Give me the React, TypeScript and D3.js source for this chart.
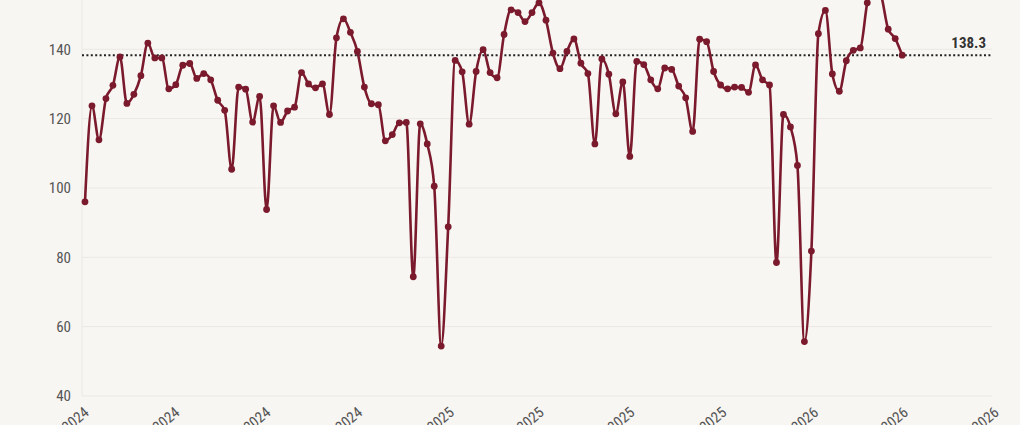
import React from "react";
import * as d3 from "d3";

const startDate = "2024-01-04";
const values: number[] = [
  96.0, 123.7, 113.9, 125.8, 129.6, 137.8, 124.4, 127.0, 132.4, 141.8,
  137.5, 137.5, 128.6, 129.8, 135.4, 135.9, 131.6, 133.0, 131.2, 125.3,
  122.4, 105.4, 129.1, 128.5, 119.0, 126.4, 93.8, 123.7, 118.9, 122.2,
  123.3, 133.3, 130.0, 128.9, 130.0, 121.2, 143.3, 148.8, 144.9, 139.4,
  129.1, 124.3, 124.0, 113.6, 115.4, 118.8, 118.9, 74.4, 118.5, 112.7,
  100.5, 54.4, 88.8, 136.8, 133.5, 118.4, 133.6, 139.9, 133.3, 131.8,
  144.3, 151.4, 150.6, 148.0, 150.6, 153.4, 148.4, 138.9, 134.4, 139.4,
  143.0, 136.0, 133.0, 112.7, 137.2, 132.8, 121.4, 130.6, 109.1, 136.5,
  135.6, 131.2, 128.6, 134.6, 134.2, 129.4, 126.0, 116.3, 142.9, 142.2,
  133.6, 129.7, 128.6, 129.1, 129.0, 127.6, 135.5, 131.2, 129.7, 78.5,
  121.2, 117.6, 106.5, 55.7, 81.8, 144.5, 151.2, 132.9, 127.9, 136.7,
  139.7, 140.4, 153.4, 159.5, 155.5, 145.8, 143.1, 138.3,
];
const yTicks = [40, 60, 80, 100, 120, 140];
const refValue = 138.3;
const refLabel = "138.3";
const xDomain = ["2024-01-01", "2026-07-01"];

const W = 1020;
const H = 425;
const BG = "#f8f6f3";
const LINE = "#7a1a2c";
const GRID = "#ebe8e4";
const TEXT = "#555";
const FONT = "'Roboto Condensed', 'Liberation Sans Narrow', 'DejaVu Sans Condensed', Roboto, sans-serif";

export default function App() {
  const parse = d3.timeParse("%Y-%m-%d");
  const start = parse(startDate) as Date;
  const data = values.map((v, i) => ({ date: d3.timeDay.offset(start, i * 7), value: v }));

  const x = d3
    .scaleTime()
    .domain(xDomain.map((d) => parse(d) as Date))
    .range([82, 992]);
  const y = d3.scaleLinear().domain([40, 160]).range([396, -20.04]);

  const line = d3
    .line<{ date: Date; value: number }>()
    .x((d) => x(d.date))
    .y((d) => y(d.value))
    .curve(d3.curveMonotoneX);

  const xTicks = x.ticks(d3.timeMonth.every(3) as any);
  const fmt = d3.timeFormat("%b %Y");
  const [x0, x1] = x.range();

  return (
    <svg
      width={W}
      height={H}
      style={{ position: "fixed", left: 0, top: 0, overflow: "hidden", background: BG }}
    >
      <rect x={0} y={0} width={W} height={H} fill={BG} />
      {yTicks.map((t) => (
        <g key={t}>
          <line x1={x0} x2={x1} y1={y(t)} y2={y(t)} stroke={GRID} strokeWidth={1} />
          <text
            x={71}
            y={y(t)}
            dy="0.35em"
            textAnchor="end"
            fontFamily={FONT}
            fontSize={15}
            fill={TEXT}
          >
            {t}
          </text>
        </g>
      ))}
      <line x1={x0} x2={x0} y1={y(40)} y2={0} stroke={GRID} strokeWidth={1} />
      {xTicks.map((t, i) => (
        <text
          key={i}
          transform={`translate(${x(t) + 8},${414}) rotate(-40)`}
          textAnchor="end"
          fontFamily={FONT}
          fontSize={15}
          fill={TEXT}
        >
          {fmt(t)}
        </text>
      ))}
      <line
        x1={x0}
        x2={x1}
        y1={y(refValue)}
        y2={y(refValue)}
        stroke="#222"
        strokeWidth={2}
        strokeDasharray="2 2.4"
      />
      <text
        x={986}
        y={y(refValue) - 7}
        textAnchor="end"
        fontFamily={FONT}
        fontSize={15}
        fontWeight="bold"
        fill="#333"
      >
        {refLabel}
      </text>
      <path d={line(data) || ""} fill="none" stroke={LINE} strokeWidth={2.6} strokeLinejoin="round" />
      {data.map((d, i) => (
        <circle key={i} cx={x(d.date)} cy={y(d.value)} r={3.4} fill={LINE} />
      ))}
    </svg>
  );
}
